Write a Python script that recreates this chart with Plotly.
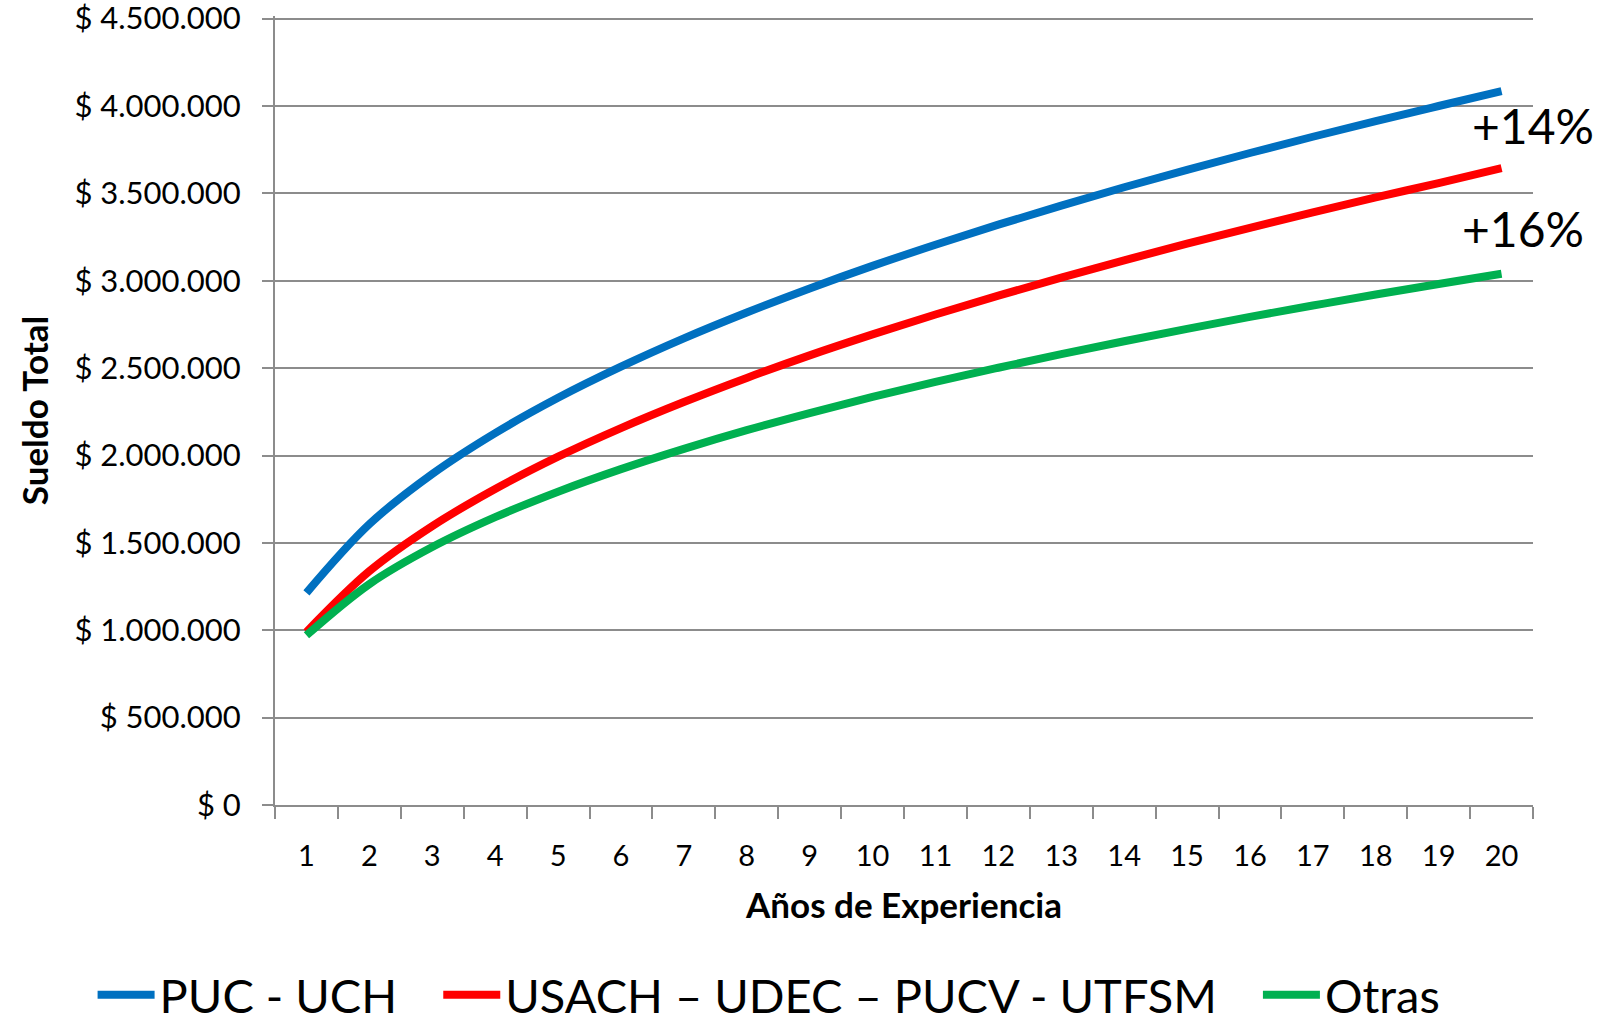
import plotly.graph_objects as go

years = [str(i) for i in range(1, 21)]

puc_uch = [1214000, 1607000, 1894000, 2128000, 2330000, 2508000, 2670000, 2818000, 2956000, 3085000,
           3206000, 3321000, 3430000, 3535000, 3635000, 3731000, 3824000, 3914000, 4000000, 4085000]
usach = [990000, 1338000, 1596000, 1808000, 1993000, 2157000, 2306000, 2444000, 2573000, 2693000,
         2807000, 2915000, 3018000, 3117000, 3212000, 3303000, 3391000, 3477000, 3559000, 3645000]
otras = [971000, 1264000, 1476000, 1647000, 1793000, 1922000, 2038000, 2145000, 2243000, 2335000,
         2421000, 2502000, 2580000, 2654000, 2725000, 2793000, 2858000, 2921000, 2981000, 3040000]

series_names = ["PUC - UCH", "USACH – UDEC – PUCV - UTFSM", "Otras"]
series_colors = ["#0070C0", "#FF0000", "#00B050"]

y_ticks = [0, 500000, 1000000, 1500000, 2000000, 2500000, 3000000, 3500000, 4000000, 4500000]
y_tick_text = ["$ 0", "$ 500.000", "$ 1.000.000", "$ 1.500.000", "$ 2.000.000", "$ 2.500.000",
               "$ 3.000.000", "$ 3.500.000", "$ 4.000.000", "$ 4.500.000"]

annot_texts = ["+14%", "+16%"]
annot_values = [3890000, 3300000]

FONT = "Lato"
NBSP = "\u00a0"
pads = [3, 3, 0]

fig = go.Figure()
for name, vals, col, p in zip(series_names, [puc_uch, usach, otras], series_colors, pads):
    fig.add_trace(go.Scatter(
        x=years, y=vals, name=name + NBSP * p, mode="lines",
        line=dict(color=col, width=8, shape="spline", smoothing=1.0),
    ))

fig.update_layout(
    width=1622, height=1022,
    margin=dict(l=275, r=89, t=16, b=217, autoexpand=False),
    paper_bgcolor="white", plot_bgcolor="white",
    font=dict(family=FONT, color="black"),
    showlegend=True,
    legend=dict(
        orientation="h", x=-0.145, xanchor="left", xref="paper",
        y=-0.241, yanchor="middle", yref="paper",
        font=dict(size=47, family=FONT, color="black"),
        itemwidth=57, traceorder="normal", bgcolor="rgba(0,0,0,0)",
    ),
)

fig.update_xaxes(
    type="category", range=[-0.5, 19.5], automargin=True,
    showgrid=False, showline=True, linecolor="#8C8C8C", linewidth=2,
    ticks="outside", tickson="boundaries", ticklen=12, tickcolor="#8C8C8C", tickwidth=2,
    tickfont=dict(size=29, family=FONT, color="black"),
    ticklabelstandoff=24,
    title=dict(text="<b>Años de Experiencia</b>", font=dict(size=35, family=FONT, color="black"), standoff=23),
    zeroline=False,
)
fig.update_yaxes(
    range=[0, 4515000], tickvals=y_ticks, ticktext=y_tick_text, automargin=False,
    showgrid=True, gridcolor="#8C8C8C", gridwidth=1.5,
    showline=True, linecolor="#8C8C8C", linewidth=2,
    ticks="outside", ticklen=11, tickcolor="#8C8C8C", tickwidth=2,
    tickfont=dict(size=31, family=FONT, color="black"),
    ticklabelstandoff=15, ticklabeloverflow="allow",
    title=dict(text="<b>Sueldo Total</b>", font=dict(size=35, family=FONT, color="black")),
    zeroline=False,
)

annot_x = [1.0, 0.992]
for t, v, ax in zip(annot_texts, annot_values, annot_x):
    fig.add_annotation(x=ax, xref="paper", y=v, yref="y", text=t, showarrow=False,
                       xanchor="center", yanchor="middle",
                       font=dict(size=48, family=FONT, color="black"))

fig.write_html("out.html", config={"displayModeBar": False},
               post_script="document.body.style.margin='0';document.body.style.overflow='hidden';")
